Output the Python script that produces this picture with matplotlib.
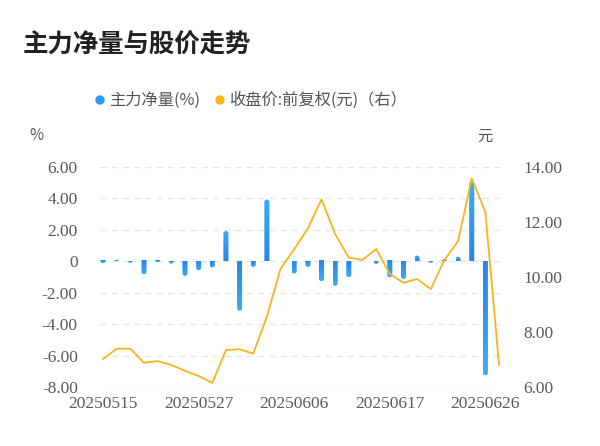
import numpy as np
import matplotlib
matplotlib.use("Agg")
import matplotlib.pyplot as plt
from matplotlib.colors import LinearSegmentedColormap
from matplotlib.patches import FancyBboxPatch, Ellipse

dates = ["20250515", "20250516", "20250519", "20250520", "20250521", "20250522",
         "20250523", "20250527", "20250528", "20250529", "20250530", "20250603",
         "20250604", "20250605", "20250606", "20250609", "20250610", "20250611",
         "20250612", "20250613", "20250616", "20250617", "20250618", "20250619",
         "20250620", "20250623", "20250624", "20250625", "20250626", "20250627"]
net_flow = [-0.13, 0.10, -0.10, -0.84, -0.07, -0.15, -0.93, -0.57, -0.40, 1.92,
            -3.14, -0.36, 3.92, 0.0, -0.78, -0.36, -1.27, -1.56, -1.01, 0.0,
            -0.17, -1.03, -1.12, 0.36, -0.10, 0.15, 0.28, 5.06, -7.23, np.nan]
close_price = [7.02, 7.40, 7.40, 6.89, 6.95, 6.81, 6.60, 6.41, 6.16, 7.35,
               7.38, 7.22, 8.56, 10.30, 11.01, 11.76, 12.82, 11.56, 10.70, 10.62,
               11.01, 10.11, 9.79, 9.93, 9.56, 10.62, 11.30, 13.58, 12.35, 6.81]
left_ticks = [-8, -6, -4, -2, 0, 2, 4, 6]
right_ticks = [6, 8, 10, 12, 14]
label_idx = [0, 7, 14, 21, 28]

cjk = ["Noto Sans CJK SC", "DejaVu Sans"]
serif = ["Liberation Serif", "DejaVu Serif"]

fig = plt.figure(figsize=(6.0, 4.46), dpi=100)
ax_h_px = 387.3 - 166.7
ax_w_px = 400.0
ax = fig.add_axes([100/600, 1-387.3/446, ax_w_px/600, ax_h_px/446])
ax2 = ax.twinx()

xlim = (-0.22, 29.07)
ylim = (-8, 6)
x = np.arange(len(dates))
ax.set_xlim(*xlim)
ax.set_ylim(*ylim)
ax2.set_ylim(6, 14)

xu = (xlim[1] - xlim[0]) / ax_w_px   # data units per px (x)
yu = (ylim[1] - ylim[0]) / ax_h_px   # data units per px (y)

# grid lines
for t in left_ticks:
    if t == -8:
        ax.axhline(t, color="#e6e6e6", lw=0.9, zorder=0)
    else:
        ax.axhline(t, color="#e6e6e6", lw=0.9, ls=(0, (5, 4)), zorder=0)

cmap = LinearSegmentedColormap.from_list("b", ["#2A84E6", "#3AAEF7"])
grad = np.linspace(0, 1, 64).reshape(-1, 1)
bw = 0.37
r_px = 2.5
bars = ax.bar(x, np.nan_to_num(net_flow), width=bw, color="none", zorder=2)
for b, v in zip(bars, net_flow):
    if not np.isfinite(v) or v == 0:
        continue
    x0 = b.get_x(); w = b.get_width()
    ry = r_px * yu
    if v > 0:
        ext = (x0, x0 + w, 0, v)
        img = grad
        clip = FancyBboxPatch((x0, -2 * ry), w, v + 2 * ry,
                              boxstyle=f"round,pad=0,rounding_size={r_px*xu}",
                              mutation_aspect=yu / xu, transform=ax.transData,
                              facecolor="none", edgecolor="none")
    else:
        ext = (x0, x0 + w, v, 0)
        img = grad[::-1]
        clip = FancyBboxPatch((x0, v), w, -v + 2 * ry,
                              boxstyle=f"round,pad=0,rounding_size={r_px*xu}",
                              mutation_aspect=yu / xu, transform=ax.transData,
                              facecolor="none", edgecolor="none")
    ax.add_patch(clip)
    im = ax.imshow(img, extent=ext, origin="lower", aspect="auto", cmap=cmap,
                   zorder=2, interpolation="bilinear")
    im.set_clip_path(clip)
ax.set_xlim(*xlim)
ax.set_ylim(*ylim)

ax2.plot(x, close_price, color="#FBB31E", lw=1.3, zorder=3)

for a in (ax, ax2):
    for s in a.spines.values():
        s.set_visible(False)
    a.tick_params(length=0)

ax.set_yticks(left_ticks)
ax.set_yticklabels(["0" if t == 0 else f"{t:.2f}" for t in left_ticks],
                   family=serif, fontsize=12.5, color="#5a5a5a")
ax.tick_params(axis="y", pad=16)
ax2.set_yticks(right_ticks)
ax2.set_yticklabels([f"{t:.2f}" for t in right_ticks],
                    family=serif, fontsize=12.5, color="#5a5a5a")
ax2.tick_params(axis="y", pad=17)
ax.set_xticks(label_idx)
ax.set_xticklabels([dates[i] for i in label_idx], family=serif, fontsize=12.5,
                   color="#5a5a5a")
ax.tick_params(axis="x", pad=6)

# title
fig.text(23/600, 1-45/446, "主力净量与股价走势", family=cjk, fontsize=18.3,
         fontweight="bold", color="#222222", va="center", ha="left")

# legend
ly = 1 - 100/446
fig.patches.append(Ellipse((100/600, ly), 8/600, 8/446, transform=fig.transFigure,
                           color="#2E9BF0", figure=fig))
fig.text(109/600, ly, "主力净量(%)", family=cjk, fontsize=11.7, color="#555555",
         va="center", ha="left")
fig.patches.append(Ellipse((220/600, ly), 8/600, 8/446, transform=fig.transFigure,
                           color="#FBB31E", figure=fig))
fig.text(229/600, ly, "收盘价:前复权(元)（右）", family=cjk, fontsize=11.7,
         color="#555555", va="center", ha="left")

fig.text(36/600, 1-135/446, "%", family=cjk, fontsize=11, color="#555555",
         va="center", ha="center")
fig.text(485/600, 1-136/446, "元", family=cjk, fontsize=11, color="#555555",
         va="center", ha="center")

fig.savefig("out.png", dpi=100)
